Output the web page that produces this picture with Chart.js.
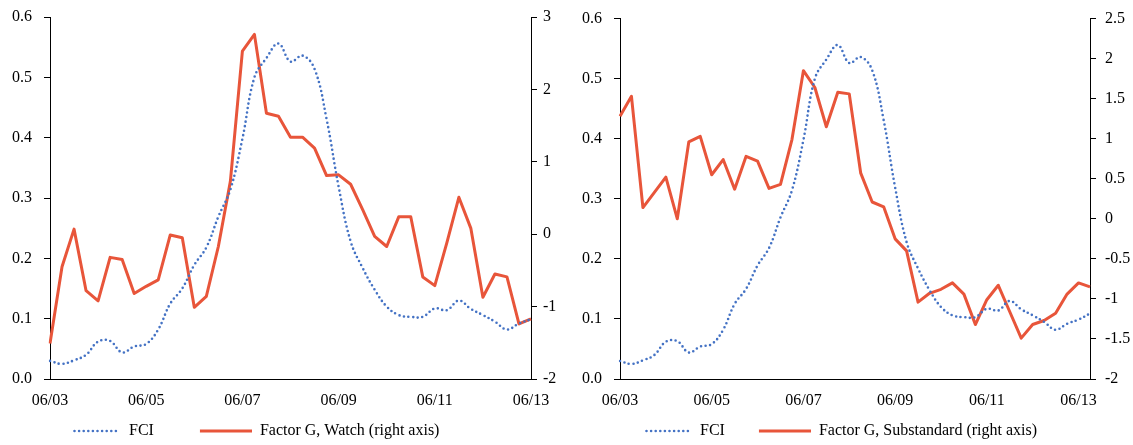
<!DOCTYPE html>
<html lang="en">
<head>
    <meta charset="UTF-8">
    <title>FCI and Factor G</title>
    <script src="https://cdn.jsdelivr.net/npm/chart.js"></script>
    <style>
        body {
            margin: 0;
            padding: 0;
            background-color: #ffffff;
            width: 1133px;
            height: 445px;
            position: relative;
            overflow: hidden;
        }
        canvas {
            position: absolute;
            top: 0;
        }
        #leftChart { left: 0; }
        #rightChart { left: 566px; }
    </style>
</head>
<body>
    <canvas id="leftChart" width="566" height="445"></canvas>
    <canvas id="rightChart" width="567" height="445"></canvas>

    <script>
        // Quarter ends, month/year
        const quarters = ['06/03', '09/03', '12/03', '03/04', '06/04', '09/04', '12/04', '03/05',
            '06/05', '09/05', '12/05', '03/06', '06/06', '09/06', '12/06', '03/07',
            '06/07', '09/07', '12/07', '03/08', '06/08', '09/08', '12/08', '03/09',
            '06/09', '09/09', '12/09', '03/10', '06/10', '09/10', '12/10', '03/11',
            '06/11', '09/11', '12/11', '03/12', '06/12', '09/12', '12/12', '03/13',
            '06/13', '09/13'];
        const xTickLabels = ['06/03', '06/05', '06/07', '06/09', '06/11', '06/13'];

        const fci = [0.030, 0.025, 0.031, 0.040, 0.062, 0.063, 0.044, 0.054, 0.058, 0.082,
            0.125, 0.150, 0.189, 0.218, 0.269, 0.314, 0.398, 0.500, 0.532, 0.556,
            0.526, 0.536, 0.514, 0.431, 0.319, 0.228, 0.184, 0.148, 0.120, 0.106,
            0.103, 0.103, 0.117, 0.114, 0.130, 0.116, 0.106, 0.095, 0.082, 0.092,
            0.099, 0.109];

        const watch = [-1.51, -0.45, 0.07, -0.78, -0.92, -0.32, -0.35, -0.82, -0.72, -0.63,
            -0.01, -0.05, -1.01, -0.86, -0.17, 0.73, 2.53, 2.76, 1.67, 1.63,
            1.34, 1.34, 1.19, 0.81, 0.82, 0.69, 0.34, -0.03, -0.17, 0.24,
            0.24, -0.59, -0.71, -0.12, 0.51, 0.08, -0.87, -0.55, -0.59, -1.24,
            -1.17];

        const substandard = [1.28, 1.53, 0.14, 0.33, 0.52, 0.00, 0.96, 1.03, 0.55, 0.74,
            0.37, 0.78, 0.72, 0.38, 0.43, 0.99, 1.85, 1.64, 1.15, 1.58,
            1.56, 0.57, 0.21, 0.15, -0.25, -0.40, -1.04, -0.93, -0.88, -0.80,
            -0.94, -1.32, -1.01, -0.83, -1.16, -1.49, -1.32, -1.27, -1.18, -0.94,
            -0.80, -0.85];

        const fciTicks = [0, 0.1, 0.2, 0.3, 0.4, 0.5, 0.6];
        const watchTicks = [-2, -1, 0, 1, 2, 3];
        const subTicks = [-2, -1.5, -1, -0.5, 0, 0.5, 1, 1.5, 2, 2.5];

        const BLUE = '#4472C4';
        const RED = '#E8553A';

        Chart.defaults.font.family = "'Liberation Serif', 'Times New Roman', serif";
        Chart.defaults.font.size = 16;
        Chart.defaults.color = '#000';
        Chart.defaults.animation = false;

        // legend sample: line drawn in the right part of a transparent box
        function legendSample(boxW, lineLen, color, dotted) {
            const c = document.createElement('canvas');
            c.width = boxW;
            c.height = 8;
            const g = c.getContext('2d');
            g.strokeStyle = color;
            g.lineWidth = dotted ? 2.6 : 3;
            if (dotted) {
                g.setLineDash([0, 4.6]);
                g.lineCap = 'round';
            }
            g.beginPath();
            g.moveTo(boxW - lineLen + (dotted ? 1.5 : 0), 4);
            g.lineTo(boxW - (dotted ? 1 : 0), 4);
            g.stroke();
            return c;
        }

        function makeChart(id, opts) {
            const samples = [
                legendSample(opts.boxW, opts.dotLen, BLUE, true),
                legendSample(opts.boxW, 52, RED, false)
            ];
            const n = opts.redData.length;

            return new Chart(document.getElementById(id), {
                type: 'line',
                data: {
                    labels: quarters.slice(0, n),
                    datasets: [
                        {
                            label: 'FCI',
                            data: fci.slice(0, n),
                            yAxisID: 'y',
                            borderColor: BLUE,
                            borderWidth: 2.6,
                            borderDash: [0, 4.6],
                            borderCapStyle: 'round',
                            tension: 0.4,
                            pointRadius: 0,
                            fill: false
                        },
                        {
                            label: opts.redLabel,
                            data: opts.redData,
                            yAxisID: 'y1',
                            borderColor: RED,
                            borderWidth: 3,
                            borderJoinStyle: 'round',
                            tension: 0,
                            pointRadius: 0,
                            fill: false
                        }
                    ]
                },
                options: {
                    responsive: false,
                    layout: {
                        padding: { left: opts.padLeft, right: 0, top: 17, bottom: -4 }
                    },
                    scales: {
                        x: {
                            type: 'category',
                            offset: false,
                            grid: { display: true, drawOnChartArea: false, drawTicks: false },
                            border: { display: true, color: '#000', width: 1 },
                            ticks: {
                                autoSkip: false,
                                maxRotation: 0,
                                minRotation: 0,
                                padding: 12,
                                callback: function(value) {
                                    const lab = this.getLabelForValue(value);
                                    return xTickLabels.includes(lab) ? lab : '';
                                }
                            },
                            afterFit: s => { s.height = 36; }
                        },
                        y: {
                            position: 'left',
                            min: 0,
                            max: 0.6,
                            grid: { drawOnChartArea: false, drawTicks: true, tickLength: 6, color: '#000' },
                            border: { display: true, color: '#000', width: 1 },
                            ticks: {
                                // mirrored so the labels are not clipped to the narrow axis box
                                mirror: true,
                                crossAlign: 'near',
                                padding: -38,
                                callback: v => v.toFixed(1)
                            },
                            afterBuildTicks: s => { s.ticks = fciTicks.map(v => ({ value: v })); },
                            afterFit: s => { s.width = opts.leftAxisW; }
                        },
                        y1: {
                            position: 'right',
                            min: opts.rightTicks[0],
                            max: opts.rightTicks[opts.rightTicks.length - 1],
                            grid: { drawOnChartArea: false, drawTicks: true, tickLength: 6, color: '#000' },
                            border: { display: true, color: '#000', width: 1 },
                            ticks: {
                                padding: opts.rightPad,
                                callback: v => String(v)
                            },
                            afterBuildTicks: s => { s.ticks = opts.rightTicks.map(v => ({ value: v })); },
                            afterFit: s => { s.width = opts.rightAxisW; }
                        }
                    },
                    plugins: {
                        legend: {
                            position: 'bottom',
                            align: 'start',
                            labels: {
                                usePointStyle: true,
                                pointStyleWidth: opts.boxW,
                                padding: 8,
                                color: '#000',
                                font: { size: 16 },
                                generateLabels: chart =>
                                    Chart.defaults.plugins.legend.labels.generateLabels(chart)
                                        .map((item, i) => Object.assign(item, { pointStyle: samples[i] }))
                            }
                        },
                        tooltip: { enabled: false }
                    }
                }
            });
        }

        makeChart('leftChart', {
            redLabel: 'Factor G, Watch (right axis)',
            redData: watch,
            rightTicks: watchTicks,
            padLeft: 23,
            leftAxisW: 27,
            rightAxisW: 35,
            rightPad: 6,
            boxW: 90,
            dotLen: 48
        });

        makeChart('rightChart', {
            redLabel: 'Factor G, Substandard (right axis)',
            redData: substandard,
            rightTicks: subTicks,
            padLeft: 40,
            leftAxisW: 14,
            rightAxisW: 43,
            rightPad: 9,
            boxW: 78,
            dotLen: 47
        });
    </script>
</body>
</html>
